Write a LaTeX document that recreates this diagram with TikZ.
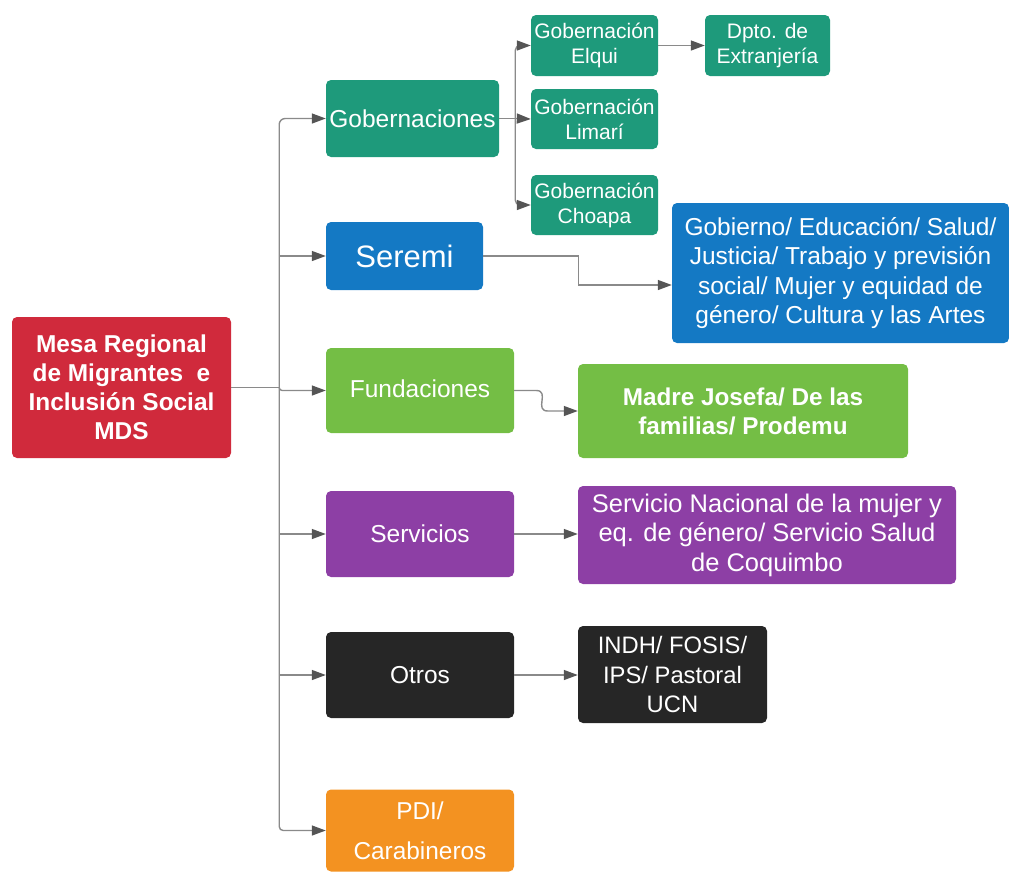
\documentclass[tikz,border=0pt]{standalone}
\usepackage{fontspec}
\setmainfont{Liberation Sans}
\usetikzlibrary{arrows.meta,calc}
\definecolor{cred}{HTML}{D02A3C}
\definecolor{cteal}{HTML}{1E9A7B}
\definecolor{cblue}{HTML}{1479C4}
\definecolor{cgreen}{HTML}{74BE45}
\definecolor{cpurple}{HTML}{8D3FA5}
\definecolor{cblack}{HTML}{262626}
\definecolor{corange}{HTML}{F39221}
\definecolor{cline}{HTML}{8A8A8A}
\definecolor{ctip}{HTML}{555555}
\tikzset{
  box/.style={rectangle, rounded corners=5pt, text=white, align=center, inner sep=2pt, draw=none},
  conn/.style={draw=cline, line width=1.4pt, -{Triangle[length=14pt,width=10pt,color=ctip]}},
  plain/.style={draw=cline, line width=1.4pt},
  fA/.style={font=\fontsize{24.5}{29.5}\selectfont},
  fB/.style={font=\fontsize{21}{25}\selectfont},
  fC/.style={font=\fontsize{24.4}{29}\selectfont\bfseries},
}
\begin{document}
\begin{tikzpicture}[x=1pt,y=-1pt]
\useasboundingbox (0,0) rectangle (1009,871);
% left column
\node[box, fill=cred, fC, minimum width=219pt, minimum height=141pt] (mesa) at (121.5,387.5) {\raisebox{4pt}{\parbox{210pt}{\centering Mesa Regional\\de Migrantes~ e\\Inclusión Social\\MDS}}};
\node[box, fill=cteal, font=\fontsize{24.5}{29}\selectfont, minimum width=173pt, minimum height=77pt] (gob) at (412.5,118.5) {Gobernaciones};
\node[box, fill=cblue, font=\fontsize{31}{36}\selectfont, minimum width=157pt, minimum height=68pt] (ser) at (404.5,256) {Seremi};
\node[box, fill=cgreen, fA, minimum width=188pt, minimum height=85pt] (fun) at (420,390.5) {\raisebox{3pt}{Fundaciones}};
\node[box, fill=cpurple, fA, minimum width=188pt, minimum height=86pt] (srv) at (420,534) {Servicios};
\node[box, fill=cblack, fA, minimum width=188pt, minimum height=86pt] (otr) at (420,675) {Otros};
\node[box, fill=corange, minimum width=188pt, minimum height=82pt, font=\fontsize{24.4}{40}\selectfont] (pdi) at (420,830.5) {\raisebox{5pt}{\parbox{180pt}{\centering PDI/\\Carabineros}}};
% gobernaciones
\node[box, fill=cteal, fB, minimum width=127pt, minimum height=61pt] (elq) at (594.5,45.5) {Gobernación\\Elqui};
\node[box, fill=cteal, fB, minimum width=127pt, minimum height=60pt] (lim) at (594.5,119) {Gobernación\\Limarí};
\node[box, fill=cteal, fB, minimum width=127pt, minimum height=60pt] (cho) at (594.5,205) {Gobernación\\Choapa};
\node[box, fill=cteal, fB, minimum width=125pt, minimum height=61pt] (dpt) at (767.5,45.5) {Dpto. de\\Extranjería};
% right column
\node[box, fill=cblue, fA, minimum width=337pt, minimum height=140pt] (sert) at (840.5,273) {Gobierno/ Educación/ Salud/\\Justicia/ Trabajo y previsión\\social/ Mujer y equidad de\\género/ Cultura y las Artes};
\node[box, fill=cgreen, font=\fontsize{24.3}{29}\selectfont\bfseries, minimum width=330pt, minimum height=94pt] (mad) at (743,411) {Madre Josefa/ De las\\familias/ Prodemu};
\node[box, fill=cpurple, font=\fontsize{25.5}{29.5}\selectfont, minimum width=378pt, minimum height=98pt] (srt) at (767,535) {Servicio Nacional de la mujer y\\eq. de género/ Servicio Salud\\de Coquimbo};
\node[box, fill=cblack, font=\fontsize{23.8}{29.5}\selectfont, minimum width=189pt, minimum height=97pt] (ind) at (672.5,674.5) {\raisebox{3pt}{\parbox{180pt}{\centering INDH/ FOSIS/\\IPS/ Pastoral\\UCN}}};
% connectors
\coordinate (jn) at ($(mesa.east)+(48,0)$);
\draw[plain] (mesa.east) -- (jn);
\draw[conn, rounded corners=6pt] (jn) |- (gob.west);
\draw[conn] (jn) |- (ser.west);
\draw[conn, rounded corners=3pt] (jn) |- (fun.west);
\draw[conn] (jn) |- (srv.west);
\draw[conn] (jn) |- (otr.west);
\draw[conn, rounded corners=4pt] (jn) |- (pdi.west);
\coordinate (gj) at ($(gob.east)+(16,0)$);
\draw[plain] (gob.east) -- (gj);
\draw[conn, rounded corners=5pt] (gj) |- (elq.west);
\draw[conn] (gj) -- (lim.west);
\draw[conn, rounded corners=5pt] (gj) |- (cho.west);
\draw[conn] (elq.east) -- (dpt.west);
\draw[conn] (ser.east) -- ++(95,0) |- ([yshift=-12pt]sert.west);
\draw[conn] (fun.east) -- ++(22,0) .. controls +(14,0) and +(-14,0) .. ([xshift=-30pt]mad.west) -- (mad.west);
\draw[conn] (srv.east) -- (srv.east -| srt.west);
\draw[conn] (otr.east) -- (otr.east -| ind.west);
\end{tikzpicture}
\end{document}
